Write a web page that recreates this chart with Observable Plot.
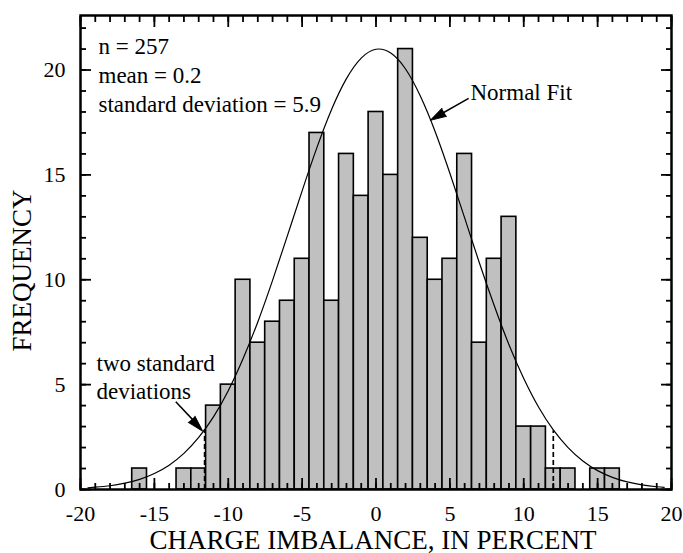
<!DOCTYPE html>
<html>
<head>
<meta charset="utf-8">
<script src="https://cdn.jsdelivr.net/npm/d3@7"></script>
<script src="https://cdn.jsdelivr.net/npm/@observablehq/plot@0.6"></script>
<style>
  html, body { margin: 0; padding: 0; background: #fff; }
  svg { display: block; }
</style>
</head>
<body>
<div id="chart"></div>
<script>
// Histogram bins (centers, width 1) and frequencies
const binCenters = [-16,-15,-14,-13,-12,-11,-10,-9,-8,-7,-6,-5,-4,-3,-2,-1,0,1,2,3,4,5,6,7,8,9,10,11,12,13,14,15,16];
const binCounts  = [  1,  0,  0,  1,  1,  4,  5,10, 7, 8, 9,11,17, 9,16,14,18,15,21,12,10,11,16, 7,11,13, 3, 3, 1, 1, 0, 1, 1];

// Normal fit curve
const fitX = [-19.5,-19,-18,-17,-16,-15,-14,-13,-12,-11,-10,-9,-8,-7,-6,-5,-4,-3,-2,-1,0,1,2,3,4,5,6,7,8,9,10,11,12,13,14,15,16,17,18,19,19.5];
const fitY = [0.08,0.11,0.18,0.30,0.48,0.76,1.16,1.72,2.48,3.46,4.71,6.23,7.99,9.97,12.09,14.24,16.30,18.13,19.59,20.57,20.99,20.81,20.05,18.76,17.07,15.08,12.95,10.80,8.77,6.90,5.29,3.93,2.84,2.00,1.36,0.90,0.58,0.36,0.22,0.13,0.10];

// Two-standard-deviation markers
const sdX = [-11.6, 12.0];
const sdTop = [2.85, 2.8];

// Axis ticks and labels
const xMajor = [-20,-15,-10,-5,0,5,10,15,20];
const xTickLabels = ["-20","-15","-10","-5","0","5","10","15","20"];
const xMinor = d3.range(-20, 21, 1);
const yMajor = [0,5,10,15,20];
const yTickLabels = ["0","5","10","15","20"];
const yMinor = d3.range(0, 23, 1);

// Texts
const statsLines = ["n = 257", "mean = 0.2", "standard deviation = 5.9"];
const fitLabel = "Normal Fit";
const sdLines = ["two standard", "deviations"];
const xTitle = "CHARGE IMBALANCE, IN PERCENT";
const yTitle = "FREQUENCY";

const bars = binCenters.map((c, i) => ({c, n: binCounts[i]})).filter(d => d.n > 0);
const fit = fitX.map((x, i) => ({x, y: fitY[i]}));

const font = "'Liberation Serif', 'Times New Roman', Times, serif";

const chart = Plot.plot({
  width: 683,
  height: 553,
  marginLeft: 80,
  marginRight: 12,
  marginTop: 15,
  marginBottom: 64,
  style: {fontFamily: font, fontSize: "22px", background: "#fff", color: "#000"},
  x: {domain: [-20, 20], axis: null},
  y: {domain: [0, 22.6], axis: null},
  marks: [
    Plot.rect(bars, {x1: d => d.c - 0.5, x2: d => d.c + 0.5, y1: 0, y2: "n", fill: "#c0c0c0", stroke: "#000", strokeWidth: 1.6, inset: 0}),
    Plot.line(fit, {x: "x", y: "y", curve: "natural", stroke: "#000", strokeWidth: 1.2}),
    Plot.ruleX(sdX, {x: d => d, y1: 0, y2: (d, i) => sdTop[i], stroke: "#000", strokeWidth: 1.7, strokeDasharray: "5,3"}),
    // ticks (inward)
    Plot.axisX(xMinor, {anchor: "bottom", tickSize: -6, tickFormat: () => "", label: null, strokeWidth: 1.8}),
    Plot.axisX(xMajor, {anchor: "bottom", tickSize: -11, tickFormat: () => "", label: null, strokeWidth: 1.8}),
    Plot.axisX(xMinor, {anchor: "top", tickSize: -6, tickFormat: () => "", label: null, strokeWidth: 1.8}),
    Plot.axisX(xMajor, {anchor: "top", tickSize: -11, tickFormat: () => "", label: null, strokeWidth: 1.8}),
    Plot.axisY(yMinor, {anchor: "left", tickSize: -6, tickFormat: () => "", label: null, strokeWidth: 1.8}),
    Plot.axisY(yMajor, {anchor: "left", tickSize: -11, tickFormat: () => "", label: null, strokeWidth: 1.8}),
    Plot.axisY(yMinor, {anchor: "right", tickSize: -6, tickFormat: () => "", label: null, strokeWidth: 1.8}),
    Plot.axisY(yMajor, {anchor: "right", tickSize: -11, tickFormat: () => "", label: null, strokeWidth: 1.8}),
    Plot.frame({stroke: "#000", strokeWidth: 2.5}),
    // tick labels
    Plot.text(xMajor, {x: d => d, frameAnchor: "bottom", text: (d, i) => xTickLabels[i], textAnchor: "middle", lineAnchor: "bottom", dy: 31, fontSize: 22, fontFamily: font, fill: "#000"}),
    Plot.text(yMajor, {y: d => d, frameAnchor: "left", text: (d, i) => yTickLabels[i], textAnchor: "end", lineAnchor: "middle", dx: -15, fontSize: 22, fontFamily: font, fill: "#000"}),
    // axis titles
    Plot.text([xTitle], {frameAnchor: "bottom", text: d => d, textAnchor: "middle", lineAnchor: "bottom", dy: 59, dx: -3, fontSize: 27, fontFamily: font, fill: "#000"}),
    Plot.text([yTitle], {frameAnchor: "left", text: d => d, textAnchor: "middle", rotate: -90, lineAnchor: "bottom", dx: -50, dy: 18, fontSize: 27, fontFamily: font, fill: "#000"}),
    // annotations
    Plot.text([statsLines.join("\n")], {frameAnchor: "top-left", text: d => d, textAnchor: "start", lineAnchor: "top", lineHeight: 1.26, dx: 18, dy: 18, fontSize: 23, fontFamily: font, fill: "#000"}),
    Plot.text([fitLabel], {frameAnchor: "top-left", text: d => d, textAnchor: "start", lineAnchor: "bottom", dx: 390, dy: 84, fontSize: 23, fontFamily: font, fill: "#000"}),
    Plot.text([sdLines.join("\n")], {frameAnchor: "top-left", text: d => d, textAnchor: "start", lineAnchor: "top", lineHeight: 1.22, dx: 16, dy: 336, fontSize: 23, fontFamily: font, fill: "#000"}),
    // arrows
    Plot.link([0], {x1: 6.27, y1: 18.65, x2: 3.9, y2: 17.7, stroke: "#000", strokeWidth: 1.5}),
    Plot.vector([0], {x: 3.68, y: 17.6, length: 16, rotate: 240, anchor: "end", shape: "spike", r: 4.5, fill: "#000", stroke: "#000", strokeWidth: 1}),
    Plot.link([0], {x1: -13.55, y1: 4.18, x2: -11.9, y2: 2.95, stroke: "#000", strokeWidth: 1.5}),
    Plot.vector([0], {x: -11.74, y: 2.79, length: 16, rotate: 137, anchor: "end", shape: "spike", r: 4.5, fill: "#000", stroke: "#000", strokeWidth: 1})
  ]
});

document.getElementById("chart").appendChild(chart);
</script>
</body>
</html>
